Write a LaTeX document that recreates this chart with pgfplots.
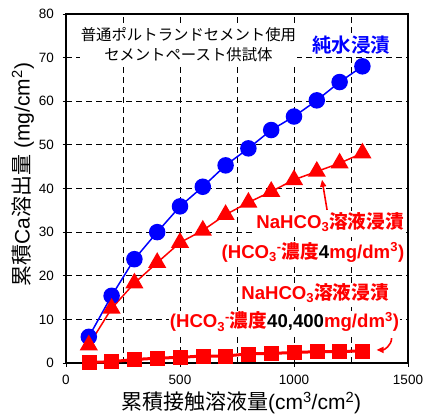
\documentclass[border=0pt]{standalone}
\usepackage{fontspec}
\setmainfont{Liberation Sans}
\newfontfamily\jp{Noto Sans CJK JP}
\newfontfamily\jpb{Noto Sans CJK JP Bold}
\usepackage{pgfplots}
\pgfplotsset{compat=1.18}
\usetikzlibrary{arrows.meta}
\definecolor{myred}{RGB}{255,0,0}
\definecolor{myblue}{RGB}{0,0,255}
\begin{document}
\begin{tikzpicture}
\begin{axis}[
 scale only axis, width=342pt, height=349pt,
 xmin=0, xmax=1500, ymin=0, ymax=80,
 xtick={0,500,1000,1500}, minor xtick={250,750,1250},
 ytick={0,10,...,80},
 grid=both,
 major grid style={black, line width=0.8pt, dash pattern=on 6pt off 4pt},
 minor grid style={black, line width=0.8pt, dash pattern=on 6pt off 4pt},
 axis line style={line width=1.6pt},
 tick style={black, line width=0.8pt},
 tick align=center, major tick length=7pt, minor tick length=0pt,
 tick pos=left,
 /pgf/number format/assume math mode=true,
 /pgf/number format/set thousands separator={},
 ticklabel style={font=\fontsize{13.5}{16}\selectfont},
 xticklabel style={yshift=-5pt},
 yticklabel style={xshift=-5pt},
 xlabel={{\jp 累積接触溶液量}(cm\textsuperscript{3}/cm\textsuperscript{2})},
 ylabel={{\jp 累積}Ca{\jp 溶出量} (mg/cm\textsuperscript{2})},
 label style={font=\fontsize{21}{24}\selectfont},
 xlabel style={at={(axis description cs:0.512,-0.115)}, anchor=center},
 ylabel style={at={(axis description cs:-0.126,0.54)}, anchor=center},
]
\addplot[myblue, line width=1.5pt, mark=*, mark size=7.5pt, mark options={solid, fill=myblue, draw=myblue}] coordinates {
(100,6.0)(200,15.4)(300,23.8)(400,30.0)(500,35.9)(600,40.4)(700,45.3)(800,49.2)(900,53.4)(1000,56.5)(1100,60.2)(1200,64.4)(1300,68.0)};
\addplot[myred, line width=1.5pt, mark=triangle*, mark size=9pt, mark options={solid, fill=myred, draw=myred}] coordinates {
(100,4.1)(200,12.5)(300,18.3)(400,23.0)(500,27.6)(600,30.4)(700,34.0)(800,36.8)(900,39.3)(1000,42.0)(1100,43.9)(1200,45.8)(1300,48.1)};
\addplot[myred, line width=3pt, mark=square*, mark size=7pt, mark options={solid, fill=myred, draw=myred, line width=0.5pt}] coordinates {
(100,0.1)(200,0.3)(300,0.8)(400,1.1)(500,1.3)(600,1.6)(700,1.6)(800,2.1)(900,2.2)(1000,2.4)(1100,2.6)(1200,2.6)(1300,2.8)};
\coordinate (blk) at (axis cs:537,72.9);
\coordinate (blu) at (axis cs:1250,72.9);
\coordinate (r1a) at (axis cs:1158,32.3);
\coordinate (r1b) at (axis cs:1083,25.4);
\coordinate (r2a) at (axis cs:1092,16.0);
\coordinate (r2b) at (axis cs:958,9.4);
\coordinate (a1s) at (axis cs:1145,35.1);
\coordinate (a1e) at (axis cs:1123,42.0);
\coordinate (a2s) at (axis cs:1428,5.7);
\coordinate (a2e) at (axis cs:1362,3.0);
\end{axis}
\node[fill=white, inner sep=1pt, align=center, font=\fontsize{15.4}{20}\selectfont\jp] at (blk) {普通ポルトランドセメント使用\\セメントペースト供試体};
\node[fill=white, inner sep=1pt, text=myblue, font=\fontsize{19.5}{22}\selectfont\jpb] at (blu) {純水浸漬};
\begin{scope}[every node/.style={fill=white, inner sep=1pt, text=myred, font=\fontsize{18.6}{22}\selectfont\bfseries}]
\node at (r1a) {NaHCO\textsubscript{3}{\jpb 溶液浸漬}};
\node at (r1b) {(HCO\textsubscript{3}\textsuperscript{-}{\jpb 濃度}\textcolor{black}{4}mg/dm\textsuperscript{3})};
\node at (r2a) {NaHCO\textsubscript{3}{\jpb 溶液浸漬}};
\node at (r2b) {(HCO\textsubscript{3}\textsuperscript{-}{\jpb 濃度}\textcolor{black}{40,400}mg/dm\textsuperscript{3})};
\end{scope}
\draw[myred, line width=1.6pt, -{Triangle[length=7pt,width=6pt]}] (a1s) -- (a1e);
\draw[myred, line width=1.6pt, -{Triangle[length=7pt,width=6pt]}] (a2s) to[out=-90,in=0] (a2e);
\pgfresetboundingbox
\path (current axis.south west) ++(-66pt,-56pt) coordinate (bbl);
\path (current axis.north east) ++(19pt,14pt) coordinate (bur);
\path[use as bounding box] (bbl) rectangle (bur);
\end{tikzpicture}
\end{document}
